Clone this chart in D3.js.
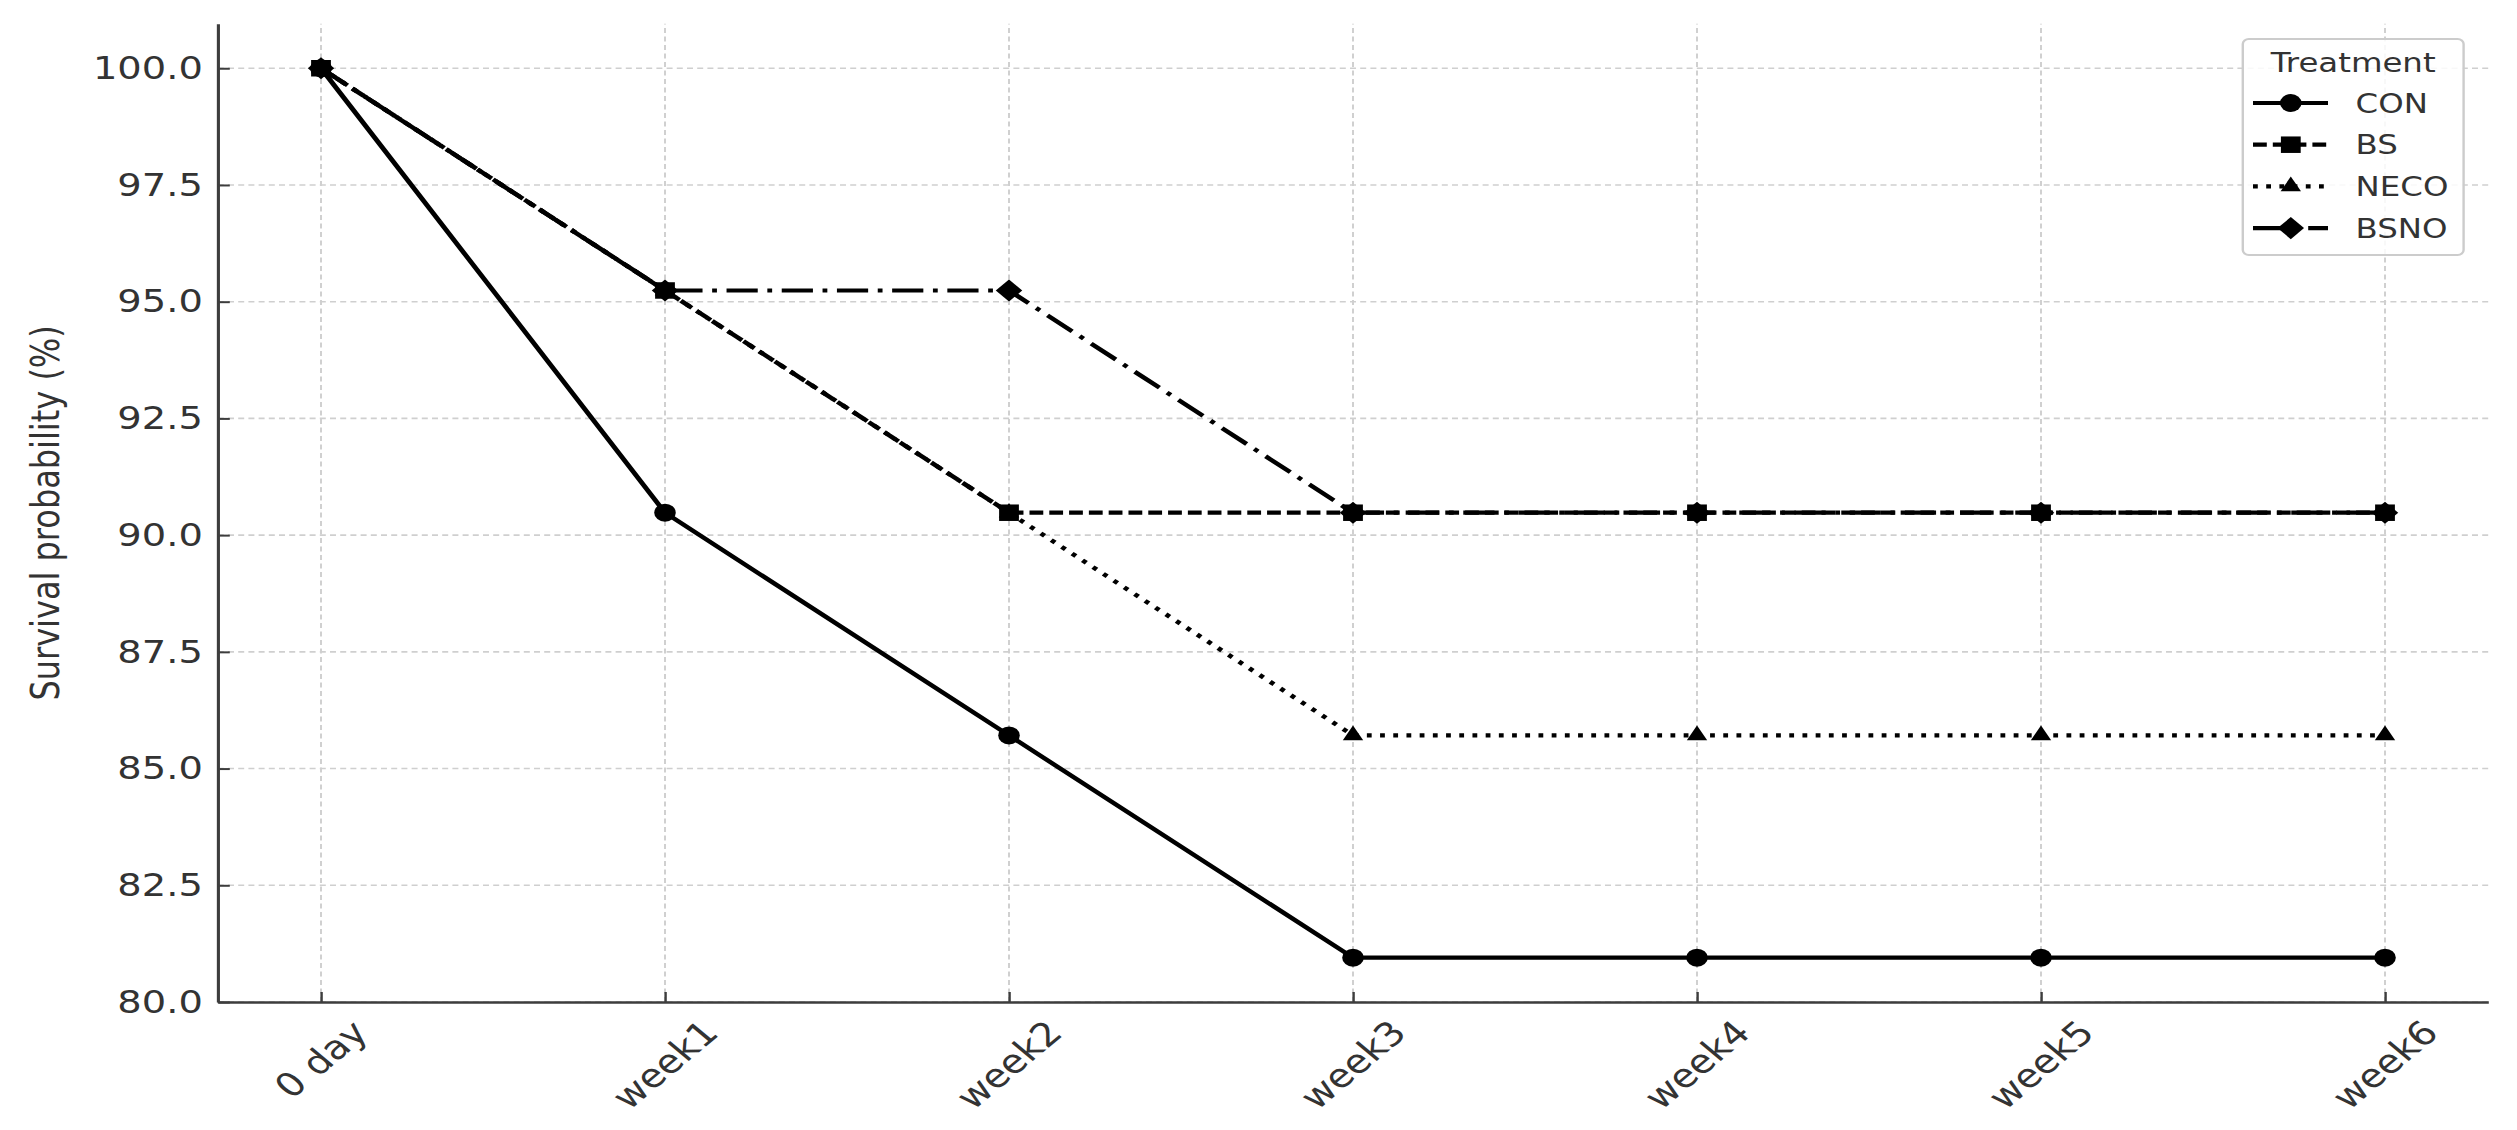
<!DOCTYPE html>
<html>
<head>
<meta charset="utf-8">
<script src="https://cdn.jsdelivr.net/npm/d3@7"></script>
<style>
  html, body { margin: 0; padding: 0; background: #ffffff; }
  svg { display: block; }
</style>
</head>
<body>
<div id="chart"></div>
<script>
// ---------------- data ----------------
const timepoints = ["0 day", "week1", "week2", "week3", "week4", "week5", "week6"];
const treatments = ["CON", "BS", "NECO", "BSNO"];
const conValues  = [100, 90.48, 85.71, 80.95, 80.95, 80.95, 80.95];
const bsValues   = [100, 95.24, 90.48, 90.48, 90.48, 90.48, 90.48];
const necoValues = [100, 95.24, 90.48, 85.71, 85.71, 85.71, 85.71];
const bsnoValues = [100, 95.24, 95.24, 90.48, 90.48, 90.48, 90.48];
const yTickValues = [80, 82.5, 85, 87.5, 90, 92.5, 95, 97.5, 100];
const yLabel = "Survival probability (%)";
const legendTitle = "Treatment";

// ---------------- layout ----------------
const W = 2517, H = 1130;
const SX = 1.2; // horizontal stretch of the original figure
const FONT = "DejaVu Sans, Verdana, sans-serif";
const TEXT = "#333333";
const SPINE = "#3d3d3d";

const series = [
  {name: treatments[0], values: conValues,  dash: null,          symbol: "circle"},
  {name: treatments[1], values: bsValues,   dash: "11.5,5",      symbol: "square"},
  {name: treatments[2], values: necoValues, dash: "4,7",         symbol: "triangle"},
  {name: treatments[3], values: bsnoValues, dash: "26,8,4,8",    symbol: "diamond"}
];

const x = d3.scaleLinear().domain([-0.3, 6.3]).range([181.5, 2073.5]);
const y = d3.scaleLinear().domain([80, 100.952]).range([1002, 23.8]);

const svg = d3.select("#chart").append("svg")
  .attr("width", W).attr("height", H)
  .style("font-family", FONT);
svg.append("rect").attr("width", W).attr("height", H).attr("fill", "#fff");

const root = svg.append("g").attr("transform", `scale(${SX},1)`);

// grid
const grid = root.append("g");
grid.selectAll("line.v").data(d3.range(timepoints.length)).join("line")
  .attr("x1", d => x(d)).attr("x2", d => x(d))
  .attr("y1", y.range()[0]).attr("y2", y.range()[1])
  .attr("stroke", "#cfcfcf").attr("stroke-width", 1.6)
  .attr("stroke-dasharray", "5,3.5");
grid.selectAll("line.h").data(yTickValues).join("line")
  .attr("x1", x.range()[0]).attr("x2", x.range()[1])
  .attr("y1", d => y(d)).attr("y2", d => y(d))
  .attr("stroke", "#cfcfcf").attr("stroke-width", 1.6)
  .attr("stroke-dasharray", "5,3.5");

// axes
const yAxis = d3.axisLeft(y).tickValues(yTickValues)
  .tickFormat(d3.format(".1f")).tickSizeInner(-10).tickSizeOuter(0).tickPadding(12.5);
const gy = root.append("g").attr("transform", `translate(${x.range()[0]},0)`).call(yAxis);
gy.select(".domain").attr("stroke", SPINE).attr("stroke-width", 2.6);
gy.selectAll(".tick line").attr("stroke", SPINE).attr("stroke-width", 2);
gy.selectAll(".tick text").attr("fill", TEXT).style("font-size", "32px").style("font-family", FONT);

const xAxis = d3.axisBottom(x).tickValues(d3.range(timepoints.length))
  .tickFormat(i => timepoints[i]).tickSizeInner(-10).tickSizeOuter(0);
const gx = root.append("g").attr("transform", `translate(0,${y.range()[0]})`).call(xAxis);
gx.select(".domain").attr("stroke", SPINE).attr("stroke-width", 2.6);
gx.selectAll(".tick line").attr("stroke", SPINE).attr("stroke-width", 2);
gx.selectAll(".tick text").remove();

// rotated x labels, bbox centred on tick
const xl = root.append("g");
timepoints.forEach((lab, i) => {
  const g = xl.append("g");
  g.append("text").text(lab)
    .attr("text-anchor", "middle").attr("dominant-baseline", "central")
    .attr("transform", "rotate(-45)")
    .attr("fill", TEXT).style("font-size", "33px");
  const bb = g.node().getBBox();
  g.attr("transform", `translate(${x(i)},${y.range()[0] + 11 - bb.y})`);
});

// y label
root.append("text").text(yLabel)
  .attr("transform", `translate(38,${(y.range()[0] + y.range()[1]) / 2}) rotate(-90)`)
  .attr("text-anchor", "middle").attr("dominant-baseline", "central")
  .attr("fill", TEXT).style("font-size", "32px");

// symbols
function symbolPath(kind) {
  if (kind === "circle") return d3.symbol(d3.symbolCircle, Math.PI * 9 * 9)();
  if (kind === "square") return d3.symbol(d3.symbolSquare, 16.5 * 16.5)();
  if (kind === "triangle") return d3.symbol(d3.symbolTriangle, Math.sqrt(3) / 4 * 17 * 17)();
  return d3.symbol(d3.symbolSquare, 15.6 * 15.6)();
}
function symbolTransform(kind, px, py) {
  return kind === "diamond" ? `translate(${px},${py}) rotate(45)` : `translate(${px},${py})`;
}

const line = d3.line().x((d, i) => x(i)).y(d => y(d));
const plot = root.append("g");
series.forEach(s => {
  plot.append("path").datum(s.values)
    .attr("d", line)
    .attr("fill", "none").attr("stroke", "#000").attr("stroke-width", 4.2)
    .attr("stroke-linejoin", "round")
    .attr("stroke-dasharray", s.dash);
  plot.selectAll(null).data(s.values).join("path")
    .attr("d", symbolPath(s.symbol))
    .attr("transform", (d, i) => symbolTransform(s.symbol, x(i), y(d)))
    .attr("fill", "#000");
});

// legend
const lg = root.append("g");
lg.append("rect").attr("x", 1869).attr("y", 39).attr("width", 184).attr("height", 216)
  .attr("rx", 5).attr("fill", "#fff").attr("fill-opacity", 0.85)
  .attr("stroke", "#cccccc").attr("stroke-width", 2);
lg.append("text").text(legendTitle)
  .attr("x", 1961).attr("y", 72).attr("text-anchor", "middle")
  .attr("fill", TEXT).style("font-size", "27px");
series.forEach((s, k) => {
  const cy = 103 + k * 41.7;
  lg.append("line").attr("x1", 1877.5).attr("x2", 1940).attr("y1", cy).attr("y2", cy)
    .attr("stroke", "#000").attr("stroke-width", 4.2).attr("stroke-dasharray", s.dash);
  lg.append("path").attr("d", symbolPath(s.symbol))
    .attr("transform", symbolTransform(s.symbol, 1909, cy)).attr("fill", "#000");
  lg.append("text").text(s.name).attr("x", 1963).attr("y", cy)
    .attr("dominant-baseline", "central").attr("fill", TEXT).style("font-size", "27px");
});
</script>
</body>
</html>
